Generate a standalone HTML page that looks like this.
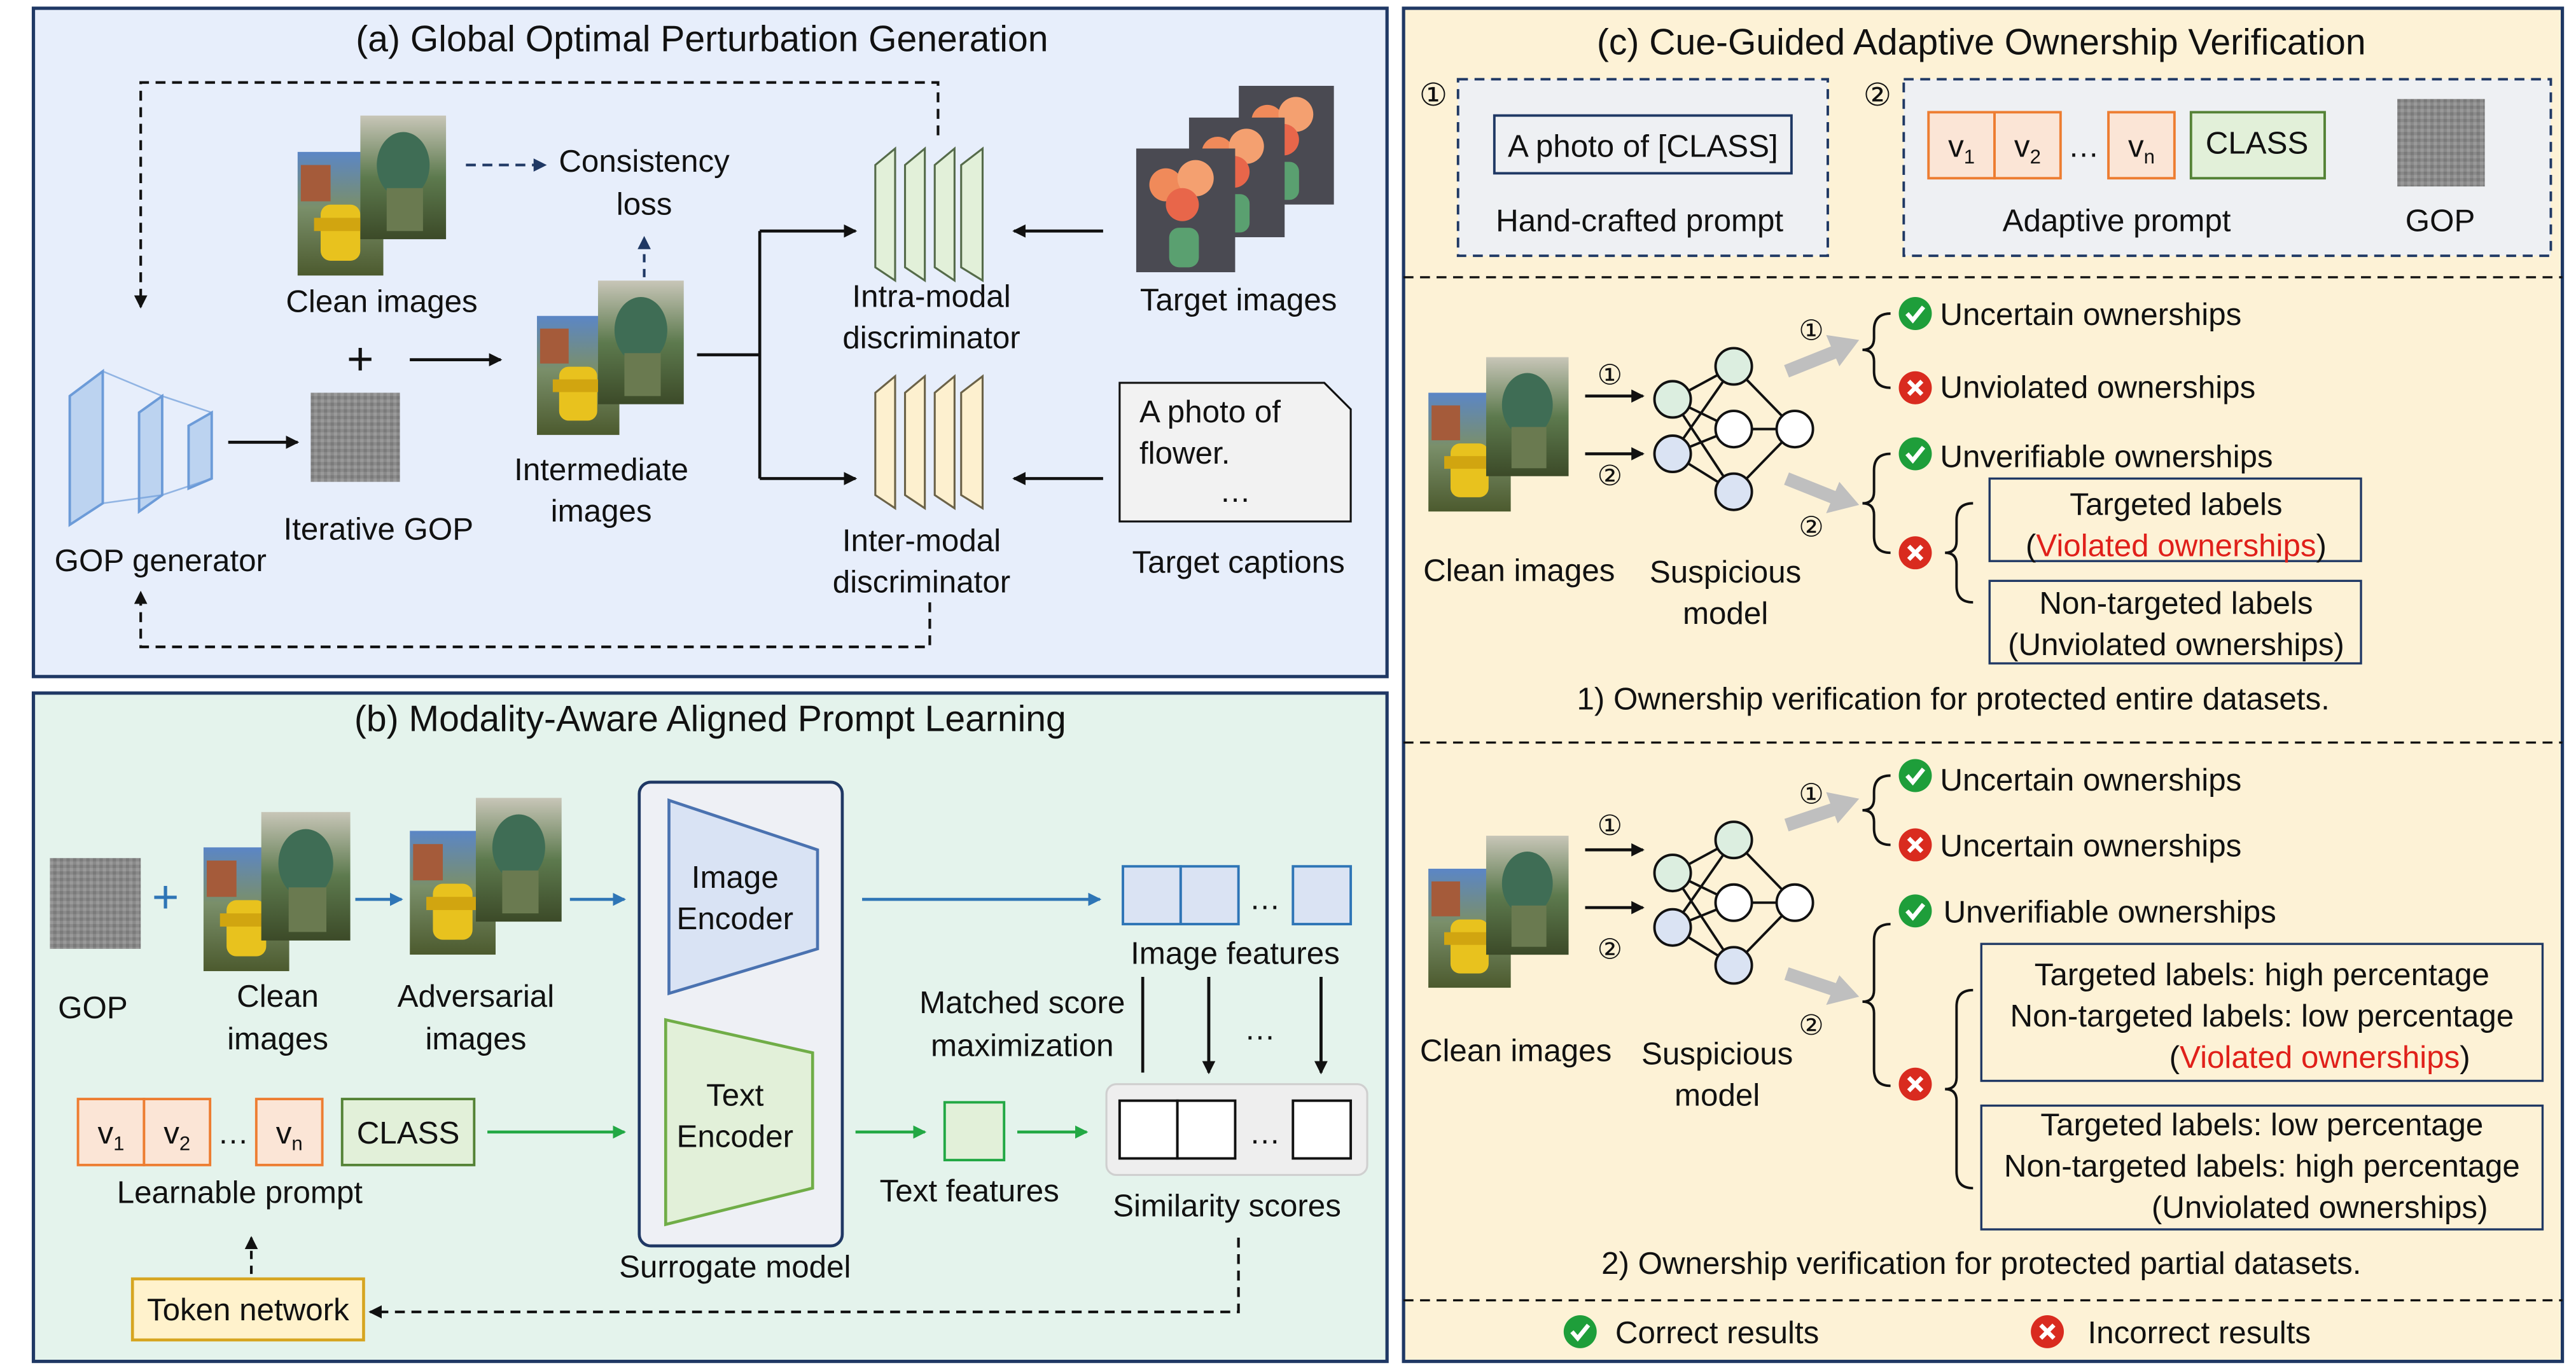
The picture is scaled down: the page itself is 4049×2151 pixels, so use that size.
<!DOCTYPE html>
<html><head><meta charset="utf-8"><style>
html,body{margin:0;padding:0;background:#fff}
svg{display:block}
text{font-family:"Liberation Sans",sans-serif;fill:#111}
</style></head><body>
<svg width="4049" height="2151" viewBox="0 0 1560 829" xmlns="http://www.w3.org/2000/svg">
<defs>
<marker id="ak" markerWidth="8" markerHeight="8" refX="7" refY="4" orient="auto" markerUnits="userSpaceOnUse"><path d="M0,0 L8,4 L0,8 z" fill="#111"/></marker>
<marker id="an" markerWidth="8" markerHeight="8" refX="7" refY="4" orient="auto" markerUnits="userSpaceOnUse"><path d="M0,0 L8,4 L0,8 z" fill="#1f3864"/></marker>
<marker id="ab" markerWidth="8" markerHeight="8" refX="7" refY="4" orient="auto" markerUnits="userSpaceOnUse"><path d="M0,0 L8,4 L0,8 z" fill="#2e75b6"/></marker>
<marker id="ag" markerWidth="8" markerHeight="8" refX="7" refY="4" orient="auto" markerUnits="userSpaceOnUse"><path d="M0,0 L8,4 L0,8 z" fill="#22a844"/></marker>
<linearGradient id="sky" x1="0" y1="0" x2="0" y2="1"><stop offset="0" stop-color="#5b86c6"/><stop offset="0.45" stop-color="#7a8f6a"/><stop offset="1" stop-color="#4c5a2e"/></linearGradient>
<linearGradient id="sky2" x1="0" y1="0" x2="0" y2="1"><stop offset="0" stop-color="#c8c6b8"/><stop offset="0.5" stop-color="#5d7a4e"/><stop offset="1" stop-color="#3c4a28"/></linearGradient>
<symbol id="hyd" viewBox="0 0 52 75"><rect width="52" height="75" fill="url(#sky)"/><rect x="2" y="8" width="18" height="22" fill="#a55b3a"/><rect x="14" y="32" width="24" height="34" rx="6" fill="#e8c21e"/><rect x="10" y="40" width="32" height="8" fill="#d1a510"/></symbol>
<symbol id="hyd2" viewBox="0 0 52 75"><rect width="52" height="75" fill="url(#sky2)"/><ellipse cx="26" cy="30" rx="16" ry="20" fill="#3f6d55"/><rect x="16" y="44" width="22" height="26" fill="#6a7a50"/></symbol>
<symbol id="flw" viewBox="0 0 60 75"><rect width="60" height="75" fill="#4a4a52"/><circle cx="18" cy="22" r="10" fill="#f08a5a"/><circle cx="36" cy="18" r="11" fill="#f4a070"/><circle cx="28" cy="34" r="10" fill="#e8664a"/><rect x="20" y="48" width="18" height="24" rx="6" fill="#5aa070"/></symbol>
<pattern id="noise" width="4" height="4" patternUnits="userSpaceOnUse"><rect width="4" height="4" fill="#8a8a8a"/><rect width="2" height="2" fill="#7a7a7a"/><rect x="2" y="2" width="2" height="2" fill="#9a9a9a"/></pattern>
<g id="chk"><circle r="10" fill="#1e9e3a"/><path d="M-5,0 L-1.5,4 L5,-4" stroke="#fff" stroke-width="2.6" fill="none"/></g>
<g id="crs"><circle r="10" fill="#d92b1f"/><path d="M-4,-4 L4,4 M4,-4 L-4,4" stroke="#fff" stroke-width="2.6"/></g>
</defs>

<!-- Panels -->
<rect x="20" y="5" width="820" height="405" fill="#e7eefb" stroke="#1f3864" stroke-width="2"/>
<rect x="20" y="420" width="820" height="405" fill="#e4f3ec" stroke="#1f3864" stroke-width="2"/>
<rect x="850" y="5" width="702" height="820" fill="#fdf2d6" stroke="#1f3864" stroke-width="2"/>

<!-- (a) -->
<text x="425" y="31" font-size="22" text-anchor="middle">(a) Global Optimal Perturbation Generation</text>
<path d="M568,82 V50 H85 V186" stroke="#111" stroke-width="1.6" fill="none" stroke-dasharray="6,4" marker-end="url(#ak)"/>
<use href="#hyd" x="180" y="92" width="52" height="75"/>
<use href="#hyd2" x="218" y="70" width="52" height="75"/>
<text x="231" y="189" font-size="19" text-anchor="middle">Clean images</text>
<path d="M282,100 H330" stroke="#1f3864" stroke-width="1.6" stroke-dasharray="6,4" marker-end="url(#an)"/>
<text x="390" y="104" font-size="19" text-anchor="middle">Consistency</text>
<text x="390" y="130" font-size="19" text-anchor="middle">loss</text>
<path d="M390,168 V144" stroke="#1f3864" stroke-width="1.6" stroke-dasharray="5,4" marker-end="url(#an)"/>
<text x="218" y="227" font-size="28" text-anchor="middle">+</text>
<!-- GOP generator -->
<g fill="#bcd3f0" stroke="#6c9bd8" stroke-width="1.5">
<path d="M42,240 L62,225 L62,305 L42,318 Z"/>
<path d="M84,250 L98,240 L98,300 L84,310 Z"/>
<path d="M114,258 L128,250 L128,290 L114,296 Z"/>
</g>
<g stroke="#6c9bd8" stroke-width="1" fill="none" opacity="0.7"><path d="M62,225 L98,240 M62,305 L98,300 M98,240 L128,250 M98,300 L128,290"/></g>
<text x="97" y="346" font-size="19" text-anchor="middle">GOP generator</text>
<path d="M138,268 H180" stroke="#111" stroke-width="1.8" marker-end="url(#ak)"/>
<rect x="188" y="238" width="54" height="54" fill="url(#noise)"/>
<text x="229" y="327" font-size="19" text-anchor="middle">Iterative GOP</text>
<path d="M248,218 H303" stroke="#111" stroke-width="1.8" marker-end="url(#ak)"/>
<use href="#hyd" x="325" y="190" width="50" height="75"/>
<use href="#hyd2" x="362" y="170" width="52" height="75"/>
<text x="364" y="291" font-size="19" text-anchor="middle">Intermediate</text>
<text x="364" y="316" font-size="19" text-anchor="middle">images</text>
<path d="M422,215 H460 M460,140 V290" stroke="#111" stroke-width="1.8" fill="none"/>
<path d="M460,140 H518" stroke="#111" stroke-width="1.8" marker-end="url(#ak)"/>
<path d="M460,290 H518" stroke="#111" stroke-width="1.8" marker-end="url(#ak)"/>
<!-- discriminators -->
<g fill="#e2f0d9" stroke="#556b4a" stroke-width="1.2">
<path d="M530,100 L542,90 L542,170 L530,162 Z"/><path d="M548,100 L560,90 L560,170 L548,162 Z"/>
<path d="M566,100 L578,90 L578,170 L566,162 Z"/><path d="M582,100 L595,90 L595,170 L582,162 Z"/>
</g>
<g fill="#fdf0cf" stroke="#6b6248" stroke-width="1.2">
<path d="M530,238 L542,228 L542,308 L530,300 Z"/><path d="M548,238 L560,228 L560,308 L548,300 Z"/>
<path d="M566,238 L578,228 L578,308 L566,300 Z"/><path d="M582,238 L595,228 L595,308 L582,300 Z"/>
</g>
<text x="564" y="186" font-size="19" text-anchor="middle">Intra-modal</text>
<text x="564" y="211" font-size="19" text-anchor="middle">discriminator</text>
<text x="558" y="334" font-size="19" text-anchor="middle">Inter-modal</text>
<text x="558" y="359" font-size="19" text-anchor="middle">discriminator</text>
<path d="M668,140 H614" stroke="#111" stroke-width="1.8" marker-end="url(#ak)"/>
<path d="M668,290 H614" stroke="#111" stroke-width="1.8" marker-end="url(#ak)"/>
<use href="#flw" x="750" y="52" width="58" height="72"/>
<use href="#flw" x="720" y="70" width="58" height="75"/>
<use href="#flw" x="688" y="90" width="60" height="75"/>
<text x="750" y="188" font-size="19" text-anchor="middle">Target images</text>
<path d="M678,232 H802 L818,248 V316 H678 Z" fill="#f2f2f2" stroke="#111" stroke-width="1.2"/>
<text x="690" y="256" font-size="19">A photo of</text>
<text x="690" y="281" font-size="19">flower.</text>
<text x="748" y="304" font-size="19" text-anchor="middle">…</text>
<text x="750" y="347" font-size="19" text-anchor="middle">Target captions</text>
<path d="M563,365 V392 H85 V359" stroke="#111" stroke-width="1.6" fill="none" stroke-dasharray="6,4" marker-end="url(#ak)"/>

<!-- (b) -->
<text x="430" y="443" font-size="22" text-anchor="middle">(b) Modality-Aware Aligned Prompt Learning</text>
<rect x="30" y="520" width="55" height="55" fill="url(#noise)"/>
<text x="56" y="617" font-size="19" text-anchor="middle">GOP</text>
<text x="100" y="553" font-size="28" text-anchor="middle" fill="#2e75b6" style="fill:#2e75b6">+</text>
<use href="#hyd" x="123" y="512" width="52" height="78"/>
<use href="#hyd2" x="158" y="492" width="54" height="78"/>
<text x="168" y="610" font-size="19" text-anchor="middle">Clean</text>
<text x="168" y="636" font-size="19" text-anchor="middle">images</text>
<path d="M215,545 H243" stroke="#2e75b6" stroke-width="1.8" marker-end="url(#ab)"/>
<use href="#hyd" x="248" y="502" width="52" height="78"/>
<use href="#hyd2" x="288" y="482" width="52" height="78"/>
<text x="288" y="610" font-size="19" text-anchor="middle">Adversarial</text>
<text x="288" y="636" font-size="19" text-anchor="middle">images</text>
<path d="M345,545 H378" stroke="#2e75b6" stroke-width="1.8" marker-end="url(#ab)"/>
<rect x="387" y="474" width="123" height="281" rx="7" fill="#eef0f5" stroke="#1f3864" stroke-width="1.8"/>
<path d="M405,485 L495,515 L495,575 L405,602 Z" fill="#d9e3f4" stroke="#4a72b0" stroke-width="1.8"/>
<text x="445" y="538" font-size="19" text-anchor="middle">Image</text>
<text x="445" y="563" font-size="19" text-anchor="middle">Encoder</text>
<path d="M403,618 L492,638 L492,720 L403,742 Z" fill="#e2f0d9" stroke="#70ad47" stroke-width="1.8"/>
<text x="445" y="670" font-size="19" text-anchor="middle">Text</text>
<text x="445" y="695" font-size="19" text-anchor="middle">Encoder</text>
<text x="445" y="774" font-size="19" text-anchor="middle">Surrogate model</text>
<path d="M522,545 H666" stroke="#2e75b6" stroke-width="1.8" marker-end="url(#ab)"/>
<g fill="#dae3f3" stroke="#2e75b6" stroke-width="1.5">
<rect x="680" y="525" width="35" height="35"/><rect x="715" y="525" width="35" height="35"/><rect x="783" y="525" width="35" height="35"/>
</g>
<text x="766" y="551" font-size="19" text-anchor="middle">…</text>
<text x="748" y="584" font-size="19" text-anchor="middle">Image features</text>
<text x="619" y="614" font-size="19" text-anchor="middle">Matched score</text>
<text x="619" y="640" font-size="19" text-anchor="middle">maximization</text>
<path d="M692,592 V650 M732,592 V650 M800,592 V650" stroke="#111" stroke-width="1.8" marker-end="url(#ak)"/>
<path d="M732,592 V650" stroke="#111" stroke-width="1.8" marker-end="url(#ak)"/>
<path d="M800,592 V650" stroke="#111" stroke-width="1.8" marker-end="url(#ak)"/>
<text x="763" y="630" font-size="19" text-anchor="middle">…</text>
<rect x="670" y="657" width="158" height="55" rx="6" fill="#eeeeee" stroke="#cfcfcf" stroke-width="1.2"/>
<g fill="#fff" stroke="#111" stroke-width="1.5">
<rect x="678" y="667" width="35" height="35"/><rect x="713" y="667" width="35" height="35"/><rect x="783" y="667" width="35" height="35"/>
</g>
<text x="766" y="693" font-size="19" text-anchor="middle">…</text>
<text x="743" y="737" font-size="19" text-anchor="middle">Similarity scores</text>
<g fill="#fbe5d6" stroke="#ed7d31" stroke-width="1.5">
<rect x="47" y="666" width="40" height="40"/><rect x="87" y="666" width="40" height="40"/><rect x="155" y="666" width="40" height="40"/>
</g>
<text x="67" y="693" font-size="19" text-anchor="middle">v<tspan font-size="12" dy="4">1</tspan></text>
<text x="107" y="693" font-size="19" text-anchor="middle">v<tspan font-size="12" dy="4">2</tspan></text>
<text x="141" y="693" font-size="19" text-anchor="middle">…</text>
<text x="175" y="693" font-size="19" text-anchor="middle">v<tspan font-size="12" dy="4">n</tspan></text>
<rect x="207" y="666" width="80" height="40" fill="#e2f0d9" stroke="#548235" stroke-width="1.5"/>
<text x="247" y="693" font-size="19" text-anchor="middle">CLASS</text>
<text x="145" y="729" font-size="19" text-anchor="middle">Learnable prompt</text>
<path d="M295,686 H378" stroke="#22a844" stroke-width="1.8" marker-end="url(#ag)"/>
<path d="M518,686 H560" stroke="#22a844" stroke-width="1.8" marker-end="url(#ag)"/>
<rect x="572" y="668" width="36" height="35" fill="#e2f0d9" stroke="#22a844" stroke-width="1.5"/>
<path d="M616,686 H658" stroke="#22a844" stroke-width="1.8" marker-end="url(#ag)"/>
<text x="587" y="728" font-size="19" text-anchor="middle">Text features</text>
<rect x="80" y="775" width="140" height="37" fill="#fff2cc" stroke="#d6a520" stroke-width="1.8"/>
<text x="150" y="800" font-size="19" text-anchor="middle">Token network</text>
<path d="M152,772 V750" stroke="#111" stroke-width="1.6" stroke-dasharray="5,4" marker-end="url(#ak)"/>
<path d="M750,750 V795 H224" stroke="#111" stroke-width="1.6" fill="none" stroke-dasharray="6,4" marker-end="url(#ak)"/>

<!-- (c) -->
<text x="1200" y="33" font-size="22" text-anchor="middle">(c) Cue-Guided Adaptive Ownership Verification</text>
<text x="868" y="64" font-size="19" text-anchor="middle">①</text>
<rect x="883" y="48" width="224" height="107" fill="#eef0f3" stroke="#1f3864" stroke-width="1.5" stroke-dasharray="6,4"/>
<rect x="905" y="70" width="180" height="35" fill="#eef0f3" stroke="#1f3864" stroke-width="1.5"/>
<text x="995" y="95" font-size="19" text-anchor="middle">A photo of [CLASS]</text>
<text x="993" y="140" font-size="19" text-anchor="middle">Hand-crafted prompt</text>
<text x="1137" y="64" font-size="19" text-anchor="middle">②</text>
<rect x="1153" y="48" width="392" height="107" fill="#eef0f3" stroke="#1f3864" stroke-width="1.5" stroke-dasharray="6,4"/>
<g fill="#fbe5d6" stroke="#ed7d31" stroke-width="1.5">
<rect x="1168" y="68" width="40" height="40"/><rect x="1208" y="68" width="40" height="40"/><rect x="1277" y="68" width="40" height="40"/>
</g>
<text x="1188" y="95" font-size="19" text-anchor="middle">v<tspan font-size="12" dy="4">1</tspan></text>
<text x="1228" y="95" font-size="19" text-anchor="middle">v<tspan font-size="12" dy="4">2</tspan></text>
<text x="1262" y="95" font-size="19" text-anchor="middle">…</text>
<text x="1297" y="95" font-size="19" text-anchor="middle">v<tspan font-size="12" dy="4">n</tspan></text>
<rect x="1327" y="68" width="81" height="40" fill="#e2f0d9" stroke="#548235" stroke-width="1.5"/>
<text x="1367" y="93" font-size="19" text-anchor="middle">CLASS</text>
<text x="1282" y="140" font-size="19" text-anchor="middle">Adaptive prompt</text>
<rect x="1452" y="60" width="53" height="53" fill="url(#noise)"/>
<text x="1478" y="140" font-size="19" text-anchor="middle">GOP</text>
<g stroke="#111" stroke-width="1.3" stroke-dasharray="6,4"><path d="M850,168 H1552 M850,450 H1552 M850,788 H1552"/></g>

<!-- section 1 -->
<use href="#hyd" x="865" y="238" width="50" height="72"/>
<use href="#hyd2" x="900" y="215" width="50" height="75"/>
<text x="920" y="352" font-size="19" text-anchor="middle">Clean images</text>
<text x="975" y="233" font-size="17" text-anchor="middle">①</text>
<path d="M960,240 H995" stroke="#111" stroke-width="1.8" marker-end="url(#ak)"/>
<path d="M960,275 H995" stroke="#111" stroke-width="1.8" marker-end="url(#ak)"/>
<text x="975" y="294" font-size="17" text-anchor="middle">②</text>
<g id="net">
<g stroke="#111" stroke-width="1.5">
<path d="M1013,242 L1050,222 M1013,242 L1050,260 M1013,242 L1050,298 M1013,275 L1050,222 M1013,275 L1050,260 M1013,275 L1050,298 M1050,222 L1087,260 M1050,260 L1087,260 M1050,298 L1087,260"/>
</g>
<g stroke="#111" stroke-width="1.5">
<circle cx="1013" cy="242" r="11" fill="#dceee0"/><circle cx="1013" cy="275" r="11" fill="#dae3f3"/>
<circle cx="1050" cy="222" r="11" fill="#dceee0"/><circle cx="1050" cy="260" r="11" fill="#fff"/><circle cx="1050" cy="298" r="11" fill="#dae3f3"/>
<circle cx="1087" cy="260" r="11" fill="#fff"/>
</g>
</g>
<text x="1045" y="353" font-size="19" text-anchor="middle">Suspicious</text>
<text x="1045" y="378" font-size="19" text-anchor="middle">model</text>
<path d="M1082,225 L1112,213" stroke="#bfbfbf" stroke-width="8"/><path d="M1106,203 L1126,206 L1114,222 Z" fill="#bfbfbf"/>
<path d="M1082,290 L1112,302" stroke="#bfbfbf" stroke-width="8"/><path d="M1114,292 L1126,306 L1106,311 Z" fill="#bfbfbf"/>
<text x="1097" y="206" font-size="17" text-anchor="middle">①</text>
<text x="1097" y="325" font-size="17" text-anchor="middle">②</text>
<g fill="none" stroke="#111" stroke-width="1.5">
<path d="M1145,190 Q1135,190 1135,200 V205 Q1135,212 1128,212 Q1135,212 1135,219 V225 Q1135,235 1145,235"/>
<path d="M1145,275 Q1135,275 1135,285 V298 Q1135,305 1128,305 Q1135,305 1135,312 V325 Q1135,335 1145,335"/>
<path d="M1195,305 Q1185,305 1185,315 V328 Q1185,335 1178,335 Q1185,335 1185,342 V355 Q1185,365 1195,365"/>
</g>
<use href="#chk" x="1160" y="190"/><text x="1175" y="197" font-size="19">Uncertain ownerships</text>
<use href="#crs" x="1160" y="235"/><text x="1175" y="241" font-size="19">Unviolated ownerships</text>
<use href="#chk" x="1160" y="275"/><text x="1175" y="283" font-size="19">Unverifiable ownerships</text>
<use href="#crs" x="1160" y="335"/>
<rect x="1205" y="290" width="225" height="50" fill="none" stroke="#1f3864" stroke-width="1.3"/>
<text x="1318" y="312" font-size="19" text-anchor="middle">Targeted labels</text>
<text x="1318" y="337" font-size="19" text-anchor="middle">(<tspan style="fill:#e0201a">Violated ownerships</tspan>)</text>
<rect x="1205" y="352" width="225" height="50" fill="none" stroke="#1f3864" stroke-width="1.3"/>
<text x="1318" y="372" font-size="19" text-anchor="middle">Non-targeted labels</text>
<text x="1318" y="397" font-size="19" text-anchor="middle">(Unviolated ownerships)</text>
<text x="1183" y="430" font-size="19" text-anchor="middle">1) Ownership verification for protected entire datasets.</text>

<!-- section 2 -->
<use href="#hyd" x="865" y="525" width="50" height="75"/>
<use href="#hyd2" x="900" y="505" width="50" height="75"/>
<text x="918" y="643" font-size="19" text-anchor="middle">Clean images</text>
<text x="975" y="506" font-size="17" text-anchor="middle">①</text>
<path d="M960,515 H995" stroke="#111" stroke-width="1.8" marker-end="url(#ak)"/>
<path d="M960,550 H995" stroke="#111" stroke-width="1.8" marker-end="url(#ak)"/>
<text x="975" y="581" font-size="17" text-anchor="middle">②</text>
<use href="#net" x="0" y="287"/>
<text x="1040" y="645" font-size="19" text-anchor="middle">Suspicious</text>
<text x="1040" y="670" font-size="19" text-anchor="middle">model</text>
<path d="M1082,500 L1112,490" stroke="#bfbfbf" stroke-width="8"/><path d="M1106,480 L1126,484 L1113,499 Z" fill="#bfbfbf"/>
<path d="M1082,590 L1112,600" stroke="#bfbfbf" stroke-width="8"/><path d="M1114,591 L1126,604 L1106,609 Z" fill="#bfbfbf"/>
<text x="1097" y="487" font-size="17" text-anchor="middle">①</text>
<text x="1097" y="627" font-size="17" text-anchor="middle">②</text>
<g fill="none" stroke="#111" stroke-width="1.5">
<path d="M1145,470 Q1135,470 1135,480 V484 Q1135,491 1128,491 Q1135,491 1135,498 V502 Q1135,512 1145,512"/>
<path d="M1145,560 Q1135,560 1135,570 V600 Q1135,607 1128,607 Q1135,607 1135,614 V648 Q1135,658 1145,658"/>
<path d="M1195,600 Q1185,600 1185,610 V653 Q1185,660 1178,660 Q1185,660 1185,667 V710 Q1185,720 1195,720"/>
</g>
<use href="#chk" x="1160" y="470"/><text x="1175" y="479" font-size="19">Uncertain ownerships</text>
<use href="#crs" x="1160" y="512"/><text x="1175" y="519" font-size="19">Uncertain ownerships</text>
<use href="#chk" x="1160" y="552"/><text x="1177" y="559" font-size="19">Unverifiable ownerships</text>
<use href="#crs" x="1160" y="657"/>
<rect x="1200" y="572" width="340" height="83" fill="none" stroke="#1f3864" stroke-width="1.3"/>
<text x="1370" y="597" font-size="19" text-anchor="middle">Targeted labels: high percentage</text>
<text x="1370" y="622" font-size="19" text-anchor="middle">Non-targeted labels: low percentage</text>
<text x="1405" y="647" font-size="19" text-anchor="middle">(<tspan style="fill:#e0201a">Violated ownerships</tspan>)</text>
<rect x="1200" y="670" width="340" height="75" fill="none" stroke="#1f3864" stroke-width="1.3"/>
<text x="1370" y="688" font-size="19" text-anchor="middle">Targeted labels: low percentage</text>
<text x="1370" y="713" font-size="19" text-anchor="middle">Non-targeted labels: high percentage</text>
<text x="1405" y="738" font-size="19" text-anchor="middle">(Unviolated ownerships)</text>
<text x="1200" y="772" font-size="19" text-anchor="middle">2) Ownership verification for protected partial datasets.</text>

<use href="#chk" x="957" y="807"/><text x="1040" y="814" font-size="19" text-anchor="middle">Correct results</text>
<use href="#crs" x="1240" y="807"/><text x="1332" y="814" font-size="19" text-anchor="middle">Incorrect results</text>
</svg>
</body></html>
